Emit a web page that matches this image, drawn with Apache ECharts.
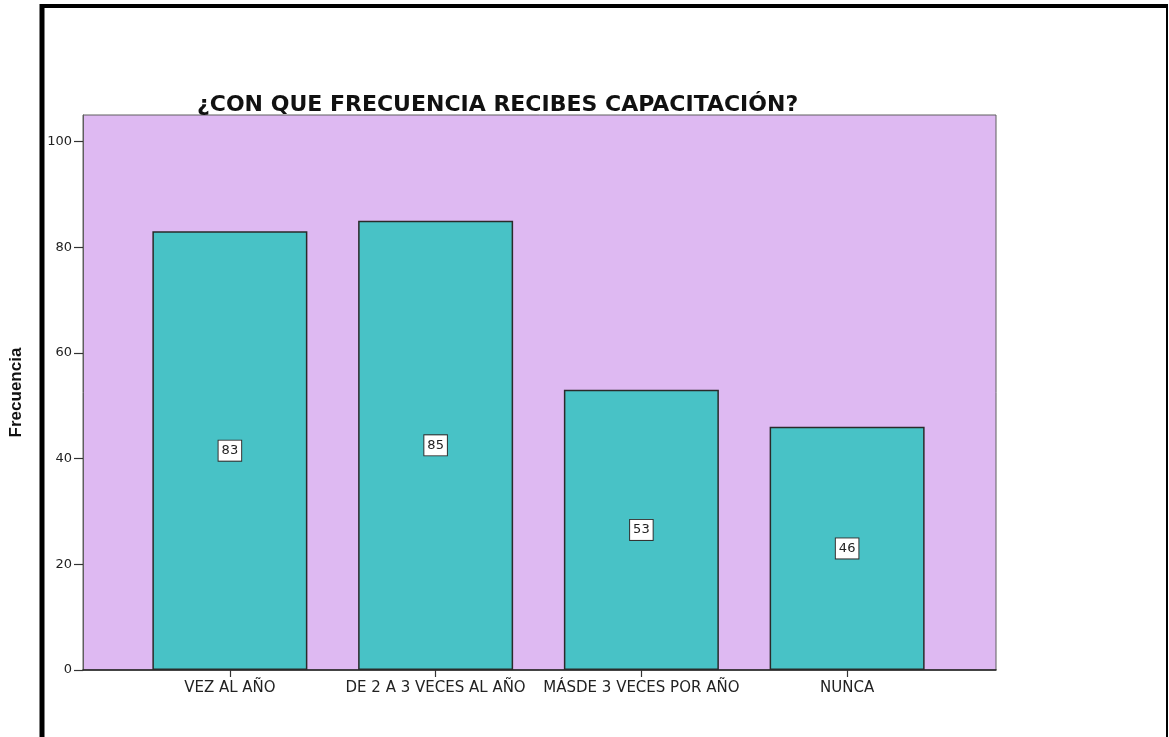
<!DOCTYPE html>
<html>
<head>
<meta charset="utf-8">
<style>
  html, body { margin: 0; padding: 0; background: #ffffff; }
  #chart { width: 1169px; height: 737px; }
</style>
<script src="https://cdn.jsdelivr.net/npm/echarts@6/dist/echarts.min.js"></script>
</head>
<body>
<div id="chart"></div>
<script>
// Survey answers: how often training is received
const categories = ['VEZ AL AÑO', 'DE 2 A 3 VECES AL AÑO', 'MÁSDE 3 VECES POR AÑO', 'NUNCA'];
const frequencies = [83, 85, 53, 46];
const yTicks = [0, 20, 40, 60, 80, 100];

const titleText = '¿CON QUE FRECUENCIA RECIBES CAPACITACIÓN?';
const yName = 'Frecuencia';

const WIDE = '"DejaVu Sans", Verdana, sans-serif';
const NARROW = '"Liberation Sans", Arial, sans-serif';
const Y_MAX = 105;

const chart = echarts.init(document.getElementById('chart'));

chart.setOption({
  animation: false,
  backgroundColor: '#ffffff',
  title: {
    text: titleText,
    left: 192,
    top: 89,
    textStyle: { fontFamily: WIDE, fontSize: 22, fontWeight: 'bold', color: '#111' }
  },
  grid: [
    // plot frame with the lilac fill and the value axis
    { left: 81, top: 115, width: 915, height: 555, show: true,
      backgroundColor: '#DEB9F2', borderColor: '#5e5e5e', borderWidth: 1 },
    // category band for the bars
    { left: 127, top: 115, width: 823, height: 555 }
  ],
  xAxis: [
    { gridIndex: 0, type: 'value', min: 0, max: 1,
      axisLine: { show: true, lineStyle: { color: '#222', width: 1.5 } },
      axisTick: { show: false }, axisLabel: { show: false }, splitLine: { show: false } },
    { gridIndex: 1, type: 'category', data: categories,
      axisLine: { show: false },
      axisTick: { show: true, alignWithLabel: true, length: 7, lineStyle: { color: '#333', width: 1.2 } },
      axisLabel: { fontFamily: WIDE, fontSize: 15, color: '#222', margin: 11,
        interval: 0, hideOverlap: false } }
  ],
  yAxis: [
    { gridIndex: 0, type: 'value', min: 0, max: Y_MAX, interval: 20,
      name: yName, nameLocation: 'middle', nameGap: 58, nameRotate: 90,
      nameTextStyle: { fontFamily: NARROW, fontSize: 17, fontWeight: 'bold', color: '#111' },
      axisLine: { show: true, lineStyle: { color: '#5e5e5e' } },
      axisTick: { show: true, length: 9, customValues: yTicks, lineStyle: { color: '#333', width: 1.2 } },
      axisLabel: { fontFamily: WIDE, fontSize: 13, color: '#222', margin: 11, customValues: yTicks },
      splitLine: { show: false } },
    { gridIndex: 1, type: 'value', min: 0, max: Y_MAX, show: false }
  ],
  series: [{
    type: 'bar',
    xAxisIndex: 1,
    yAxisIndex: 1,
    data: frequencies,
    barWidth: 155,
    itemStyle: { color: '#48C2C6', borderColor: '#2a2a2a', borderWidth: 1.5 },
    label: {
      show: true,
      position: 'inside',
      fontFamily: WIDE,
      fontSize: 13,
      color: '#222',
      backgroundColor: '#ffffff',
      borderColor: '#333',
      borderWidth: 1,
      padding: [4, 3, 3, 3]
    }
  }],
  graphic: [
    { type: 'line', shape: { x1: 42, y1: 4, x2: 42, y2: 737 }, style: { stroke: '#000', lineWidth: 5 } },
    { type: 'line', shape: { x1: 40, y1: 6, x2: 1168, y2: 6 }, style: { stroke: '#000', lineWidth: 4 } },
    { type: 'line', shape: { x1: 1167, y1: 4, x2: 1167, y2: 737 }, style: { stroke: '#000', lineWidth: 2 } }
  ]
});
</script>
</body>
</html>
